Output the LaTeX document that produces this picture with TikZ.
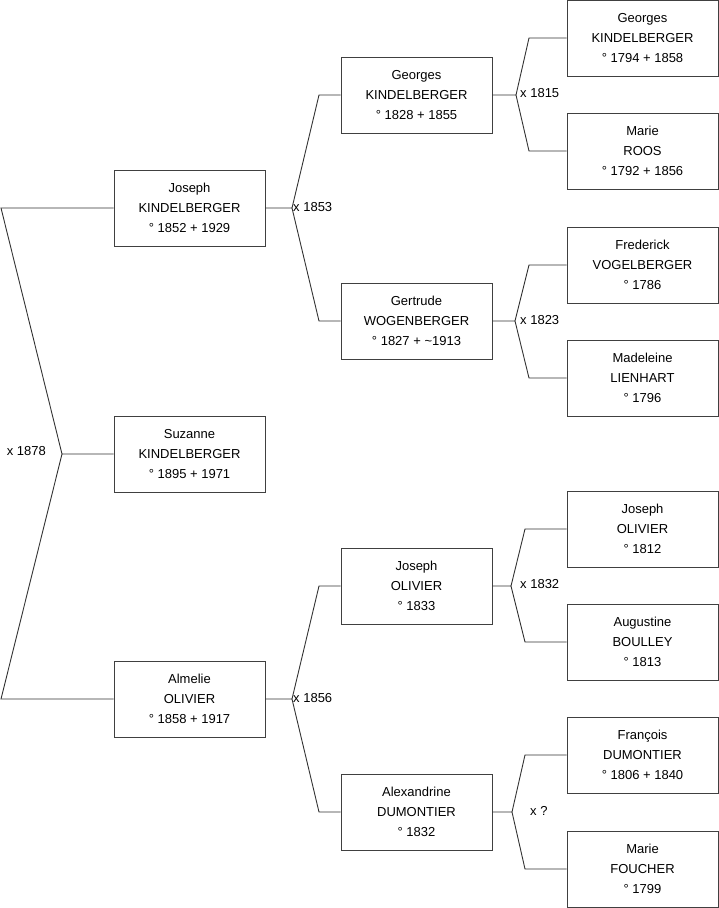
\documentclass[tikz,border=0pt]{standalone}
\usepackage{fontspec}
\setmainfont{Liberation Sans}
\usepackage{tikz}

\tikzset{
  person/.style = {draw = black!75, line width = 0.9pt, fill = white, minimum width = 151pt, minimum height = 76pt,
                   align = center, inner sep = 0pt, font = \fontsize{13}{20}\selectfont},
  link/.style = {draw = black!80, line width = 0.9pt},
  wed/.style = {inner sep = 0pt, font = \fontsize{13}{16}\selectfont}
}

\begin{document}
\begin{tikzpicture}[x = 1pt, y = -1pt]
            \useasboundingbox (0,0) rectangle (719,908);
            \node[person] (JK) at (189.5,208) {Joseph\\KINDELBERGER\\° 1852 + 1929};
            \node[person] (SK) at (189.5,454) {Suzanne\\KINDELBERGER\\° 1895 + 1971};
            \node[person] (AO) at (189.5,699) {Almelie\\OLIVIER\\° 1858 + 1917};
            \node[person] (GK) at (416.5,95) {Georges\\KINDELBERGER\\° 1828 + 1855};
            \node[person] (GW) at (416.5,321) {Gertrude\\WOGENBERGER\\° 1827 + \textasciitilde1913};
            \node[person] (JO) at (416.5,586) {Joseph\\OLIVIER\\° 1833};
            \node[person] (AD) at (416.5,812) {Alexandrine\\DUMONTIER\\° 1832};
            \node[person] (GKa) at (642.5,38) {Georges\\KINDELBERGER\\° 1794 + 1858};
            \node[person] (MR) at (642.5,151) {Marie\\ROOS\\° 1792 + 1856};
            \node[person] (FV) at (642.5,265) {Frederick\\VOGELBERGER\\° 1786};
            \node[person] (ML) at (642.5,378) {Madeleine\\LIENHART\\° 1796};
            \node[person] (JOa) at (642.5,529) {Joseph\\OLIVIER\\° 1812};
            \node[person] (AB) at (642.5,642) {Augustine\\BOULLEY\\° 1813};
            \node[person] (FD) at (642.5,755) {François\\DUMONTIER\\° 1806 + 1840};
            \node[person] (MF) at (642.5,869) {Marie\\FOUCHER\\° 1799};

            \coordinate (m0) at (62,454);
            \coordinate (m0a) at (1,208);
            \coordinate (m0b) at (1,699);
            \coordinate (m1) at (292,208);
            \coordinate (m1a) at (319,95);
            \coordinate (m1b) at (319,321);
            \coordinate (m2) at (292,699);
            \coordinate (m2a) at (319,586);
            \coordinate (m2b) at (319,812);
            \coordinate (m3) at (516,95);
            \coordinate (m3a) at (529,38);
            \coordinate (m3b) at (529,151);
            \coordinate (m4) at (515,321);
            \coordinate (m4a) at (529,265);
            \coordinate (m4b) at (529,378);
            \coordinate (m5) at (511,586);
            \coordinate (m5a) at (525,529);
            \coordinate (m5b) at (525,642);
            \coordinate (m6) at (512,812);
            \coordinate (m6a) at (525,755);
            \coordinate (m6b) at (525,869);

            \path[link] (JK.west) -- (m0a) -- (m0) -- (m0b) -- (AO.west) (m0) -- (SK.west);
            \path[link] (JK.east) -- (m1) (GK.west) -- (m1a) -- (m1) -- (m1b) -- (GW.west);
            \path[link] (AO.east) -- (m2) (JO.west) -- (m2a) -- (m2) -- (m2b) -- (AD.west);
            \path[link] (GK.east) -- (m3) (GKa.west) -- (m3a) -- (m3) -- (m3b) -- (MR.west);
            \path[link] (GW.east) -- (m4) (FV.west) -- (m4a) -- (m4) -- (m4b) -- (ML.west);
            \path[link] (JO.east) -- (m5) (JOa.west) -- (m5a) -- (m5) -- (m5b) -- (AB.west);
            \path[link] (AD.east) -- (m6) (FD.west) -- (m6a) -- (m6) -- (m6b) -- (MF.west);

            \node[wed, anchor = east] (w0) at (46,451) {x 1878};
            \node[wed, anchor = west] (w1) at (293,207) {x 1853};
            \node[wed, anchor = west] (w2) at (293,698) {x 1856};
            \node[wed, anchor = west] (w3) at (520,93) {x 1815};
            \node[wed, anchor = west] (w4) at (520,320) {x 1823};
            \node[wed, anchor = west] (w5) at (520,584) {x 1832};
            \node[wed, anchor = west] (w6) at (530,811) {x ?};
\end{tikzpicture}
\end{document}
